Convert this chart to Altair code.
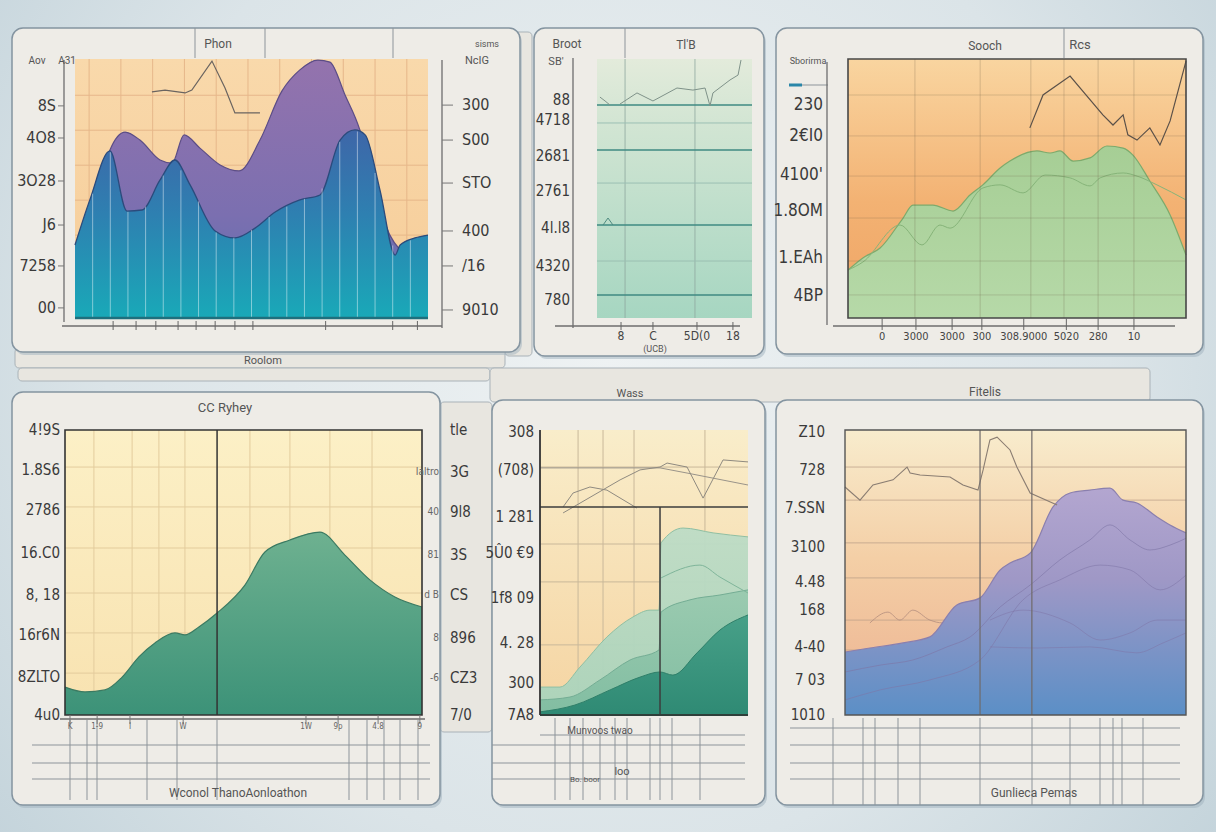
import altair as alt
import pandas as pd

FONT = "Liberation Sans Narrow, DejaVu Sans Condensed, Roboto, sans-serif"
SANS = "Roboto, DejaVu Sans, sans-serif"

# ---------------- data: top-left panel ----------------
a_blue_x = [0, 4.2, 9.9, 14.7, 19.0, 24.1, 28.3, 32.6, 39.7, 45.3, 51.0, 56.7, 63.7, 69.4, 75.1, 79.3, 82.2, 86.4, 90.7, 92.1, 96.3, 100]
a_blue_y = [28.2, 45.6, 64.5, 41.3, 41.7, 53.3, 61.0, 51.4, 33.6, 30.9, 34.7, 40.9, 45.6, 47.5, 68.7, 72.6, 70.7, 49.4, 24.3, 28.2, 30.9, 32.0]
a_purple_x = [7.1, 9.9, 14.2, 18.4, 24.1, 27.5, 30.9, 35.4, 41.1, 46.5, 52.4, 58.6, 63.7, 68.8, 72.2, 76.5, 80.7, 85.0, 89.2, 92.1]
a_purple_y = [49.4, 64.9, 71.8, 68.7, 61.0, 59.8, 70.7, 65.6, 59.1, 56.8, 68.7, 87.6, 95.8, 99.6, 98.8, 86.1, 72.6, 49.4, 32.0, 26.3]
a_line_x = [21.8, 25.5, 31.2, 33.1, 38.8, 42.5, 45.3, 52.4]
a_line_y = [87.3, 88.0, 86.9, 88.0, 99.2, 88.8, 79.2, 79.2]
a_stripe_x = [5, 10, 15, 20, 25, 30, 35, 40, 45, 50, 55, 60, 65, 70, 75, 80, 85, 90, 95]
a_stripe_top = [48, 64, 41, 43, 55, 57, 45, 33, 31, 34, 39, 43, 46, 50, 68, 72, 56, 28, 30]
a_grid_x = [4, 13, 22, 31, 40, 49, 58, 67, 76, 85, 94]
a_grid_y = [18.5, 32, 45.5, 59, 72.5, 86]
a_left_vals = [81.9, 69.5, 52.9, 35.9, 20.1, 3.9]
a_left_labels = ["8S", "4O8", "3O28", "J6", "7258", "00"]
a_right_vals = [82.2, 68.7, 52.1, 33.6, 20.1, 3.1]
a_right_labels = ["300", "S00", "STO", "400", "/16", "9010"]
a_tick_x = [10.8, 17.3, 22.9, 29.2, 34.3, 39.7, 45.3, 50.4, 71.0, 90.0, 97.0]

# ---------------- data: top-middle panel ----------------
b_line_x = [14.8, 25.8, 36.1, 51.6, 61.9, 69.7, 72.9, 74.8, 85.8, 91.0, 92.9]
b_line_y = [82.6, 86.9, 83.8, 88.8, 88.0, 88.8, 81.9, 86.9, 91.9, 93.8, 99.6]
b_wiggle_x = [1.9, 5.2, 8.4]
b_wiggle_y = [85.3, 83.8, 82.2]
b_bump_x = [3.9, 7.1, 10.3]
b_bump_y = [35.9, 38.6, 35.9]
b_dark_y = [82.2, 64.9, 35.9, 8.9]
b_light_y = [75.3, 52.1, 22.0]
b_grid_x = [18.1, 63.2]
b_left_vals = [84.2, 76.4, 62.5, 49.0, 34.7, 20.1, 6.9]
b_left_labels = ["88", "4718", "2681", "2761", "4l.l8", "4320", "780"]
b_bottom_vals = [15.5, 36.1, 64.5, 87.7]
b_bottom_labels = ["8", "C", "5D(0", "18"]

# ---------------- data: top-right panel ----------------
c_green_x = [0, 4.4, 9.5, 16.3, 19.2, 25.1, 31.1, 36.1, 39.9, 45.0, 47.9, 55.9, 59.8, 62.7, 66.6, 71.6, 76.6, 81.4, 84.3, 89.3, 95.3, 100]
c_green_y = [18.5, 23.2, 27.0, 38.6, 43.6, 43.6, 41.3, 47.5, 51.4, 57.9, 60.6, 64.5, 63.7, 64.5, 60.6, 61.8, 66.4, 65.6, 62.9, 52.9, 39.8, 24.3]
c_inner_x = [0, 4.4, 15.4, 21.9, 27.2, 30.2, 39.9, 45.0, 51.8, 58.3, 65.7, 71.6, 74.6, 81.4, 85.5, 91.4, 100]
c_inner_y = [18.5, 21.6, 35.9, 28.2, 35.9, 34.7, 50.2, 51.4, 48.3, 55.2, 54.1, 51.0, 54.1, 56.0, 54.8, 51.4, 45.6]
c_dark_x = [53.8, 57.7, 65.7, 75.4, 78.4, 81.4, 82.8, 85.5, 89.3, 92.3, 95.3, 100]
c_dark_y = [73.4, 86.1, 93.4, 78.4, 74.5, 78.4, 70.7, 68.7, 73.4, 66.8, 76.1, 99.2]
c_grid_x = [19.8, 39.1, 54.1, 63.9, 74.0, 84.6]
c_grid_y = [86.1, 70.3, 54.8, 38.6, 22.0, 8.9]
c_left_vals = [82.2, 70.3, 55.2, 41.3, 23.2, 8.5]
c_left_labels = ["230", "2€I0", "4100'", "1.8OM", "1.EAh", "4BP"]
c_bottom_vals = [10.1, 20.1, 30.8, 39.6, 52.0, 64.6, 74.0, 84.6]
c_bottom_labels = ["0", "3000", "3000", "300", "308.9000", "5020", "280", "10"]

# ---------------- data: bottom-left panel ----------------
d_green_x = [0, 5.6, 11.2, 16.0, 20.7, 25.2, 30.8, 33.6, 37.5, 42.6, 50.4, 56.0, 63.0, 71.4, 78.4, 85.4, 92.4, 100]
d_green_y = [9.8, 8.1, 8.8, 13.3, 20.4, 25.3, 28.8, 28.1, 30.9, 35.8, 45.6, 57.2, 61.4, 64.2, 56.1, 47.4, 41.4, 37.9]
d_grid_x = [8.1, 18.8, 26.3, 33.6, 51.8, 63.0, 74.2, 86.0]
d_grid_y = [87.0, 73.0, 58.6, 42.8, 28.8, 14.7]
d_div_x = [42.6]
d_left_vals = [100, 86.0, 71.9, 56.8, 42.1, 28.1, 13.3, 0]
d_left_labels = ["4!9S", "1.8S6", "2786", "16.C0", "8, 18", "16r6N", "8ZLTO", "4u0"]
d_right_vals = [100, 85.3, 71.2, 56.1, 42.1, 27.0, 13.0, 0]
d_right_labels = ["tle", "3G", "9l8", "3S", "CS", "896", "CZ3", "7/0"]
d_right_small_vals = [85.3, 71.2, 56.1, 42.1, 27.0, 13.0]
d_right_small_labels = ["Ialtro", "40", "81", "d B", "8", "-6"]
d_bottom_vals = [1.4, 9.0, 18.2, 33.1, 67.5, 76.5, 87.7, 99.4]
d_bottom_labels = ["K", "1-9", "I", "W", "1W", "9p", "4.8", "9"]

# ---------------- data: bottom-middle panel ----------------
e_l1_x = [0, 9.6, 19.2, 32.2, 44.7, 52.9, 57.2, 58.2, 68.8, 83.2, 100]
e_l1_y = [9.8, 9.8, 16.8, 27.4, 34.4, 36.8, 36.8, 60.4, 65.6, 63.9, 62.5]
e_l2_x = [0, 14.4, 28.8, 43.3, 57.2, 58.2, 72.1, 86.5, 100]
e_l2_y = [5.3, 6.3, 12.3, 19.3, 22.8, 36.1, 40.4, 42.1, 43.9]
e_l3_x = [0, 16.8, 33.7, 48.1, 57.7, 63.9, 75.5, 86.5, 100]
e_l3_y = [1.1, 3.5, 8.8, 13.3, 15.1, 14.0, 21.8, 29.8, 35.1]
e_inner_x = [58.2, 76.9, 86.5, 100]
e_inner_y = [48.1, 52.6, 48.4, 42.8]
e_thin_a_x = [11.1, 15.9, 24.0, 32.2, 46.6]
e_thin_a_y = [73.0, 77.9, 80.0, 78.9, 72.6]
e_thin_b_x = [11.1, 38.5, 48.1, 57.7, 61.1, 70.7, 78.4, 88.0, 100]
e_thin_b_y = [70.9, 82.5, 86.0, 87.0, 88.4, 87.0, 76.1, 89.5, 88.8]
e_thin_c_x = [0, 57.7, 70.7, 100]
e_thin_c_y = [86.7, 86.7, 84.9, 80.7]
e_grid_x = [18.3, 30.3, 45.2, 79.3]
e_grid_y = [87.0, 60.0, 46.7, 24.6]
e_dark_h = [73.0]
e_dark_v = [57.7]
e_left_vals = [99.3, 86.0, 69.5, 56.8, 41.1, 25.3, 11.2, 0]
e_left_labels = ["308", "(708)", "1 281", "5Û0 €9", "1f8 09", "4. 28", "300", "7A8"]

# ---------------- data: bottom-right panel ----------------
f_area_x = [0, 7.3, 17.0, 24.9, 32.8, 39.6, 45.5, 48.4, 54.3, 61.0, 66.0, 71.8, 77.7, 81.5, 85.6, 91.5, 95.3, 100]
f_area_y = [22.1, 23.5, 25.3, 27.4, 38.6, 41.1, 50.9, 53.3, 56.8, 73.0, 77.9, 78.9, 79.6, 75.4, 74.4, 69.5, 66.7, 63.9]
f_in1_x = [0, 10.3, 19.9, 29.9, 36.7, 45.5, 54.3, 63.0, 71.8, 77.7, 83.6, 89.4, 95.3, 100]
f_in1_y = [15.1, 17.5, 19.3, 23.9, 27.4, 37.9, 45.6, 54.4, 61.4, 66.7, 61.4, 57.9, 59.6, 62.0]
f_in2_x = [0, 10.3, 24.9, 39.6, 52.2, 63.0, 74.8, 83.6, 92.4, 100]
f_in2_y = [5.3, 8.8, 12.3, 19.3, 40.4, 47.4, 52.6, 50.9, 43.9, 49.1]
f_in3_x = [42.5, 52.2, 66.0, 74.8, 83.6, 91.5, 100]
f_in3_y = [33.3, 36.8, 32.3, 26.3, 28.8, 33.3, 33.3]
f_in4_x = [42.5, 56.3, 71.8, 85.6, 93.3, 100]
f_in4_y = [23.9, 23.5, 23.9, 21.8, 25.3, 28.8]
f_top_x = [0, 4.4, 8.2, 14.1, 18.2, 19.1, 22.0, 30.8, 34.6, 39.0, 40.5, 42.5, 44.6, 48.4, 50.4, 54.3, 62.2]
f_top_y = [80.0, 75.4, 80.7, 82.5, 87.0, 84.9, 84.2, 83.5, 80.7, 78.9, 86.0, 96.5, 97.5, 93.0, 87.0, 77.9, 73.7]
f_wave_x = [7.3, 12.6, 16.1, 19.9, 24.9, 28.7, 33.7]
f_wave_y = [32.3, 36.1, 33.3, 36.8, 33.3, 32.3, 32.6]
f_grid_y = [87.0, 75.4, 60.4, 48.1, 33.3, 22.8, 8.8]
f_div_x = [39.6, 54.8]
f_left_vals = [99.3, 86.0, 72.6, 58.9, 46.7, 36.8, 23.9, 12.3, 0]
f_left_labels = ["Z10", "728", "7.SSN", "3100", "4.48", "168", "4-40", "7 03", "1010"]

# ---------------- decorative texts (captions / headers) ----------------
deco_texts = ["Phon", "sisms", "NcIG", "Aov", "A31", "Broot", "Tl'B", "SB'", "Sooch", "Rcs",
              "Sborirma", "Roolom", "Wass", "Fitelis", "CC Ryhey", "Wconol ThanoAonloathon",
              "Gunlieca Pemas", "Munvoos twao", "loo", "Bo. boor", "(UCB)"]

# ---------------- layout (pixels) ----------------
W, H = 1216, 832
TEXT_POS = [(218, 44, 12), (487, 44, 9), (477, 61, 11), (37, 61, 10), (67, 61, 10), (567, 44, 12),
            (686, 45, 12), (556, 62, 11), (985, 46, 12), (1080, 45, 13), (808, 61, 9), (263, 361, 11),
            (630, 394, 11), (985, 392, 12), (225, 408, 13), (238, 793, 12), (1034, 793, 12),
            (600, 731, 10), (622, 772, 11), (585, 780, 8), (655, 349, 9)]
CARDS = [(12, 28, 520, 352), (534, 28, 764, 356), (776, 28, 1203, 354),
         (12, 392, 440, 805), (492, 400, 765, 805), (776, 400, 1203, 805)]
STRIPS = [(505, 32, 532, 356), (15, 348, 505, 368), (18, 368, 490, 381),
          (490, 368, 1150, 402), (440, 402, 492, 732)]
LINES = [(195, 28, 195, 58), (265, 28, 265, 58), (393, 28, 393, 58), (625, 28, 625, 58), (1064, 28, 1064, 58)]
for yy in (745, 763, 779):
    LINES += [(32, yy, 430, yy), (492, yy, 745, yy), (790, yy, 1180, yy)]
LINES += [(540, 735, 745, 735), (790, 728, 1180, 728), (802, 85, 828, 85)]
for xx in (70, 87, 97, 147, 177, 217, 349, 367, 384, 400, 418):
    LINES.append((xx, 720, xx, 800))
for xx in (555, 570, 583, 600, 615, 627, 650, 660, 672, 700):
    LINES.append((xx, 718, xx, 800))
for xx in (833, 863, 875, 898, 920, 980, 1032, 1070, 1100, 1113, 1122, 1143):
    LINES.append((xx, 718, xx, 805))
AXLINES = [(64, 60, 64, 322), (442, 60, 442, 328), (62, 326, 442, 326),
           (573, 58, 573, 328), (555, 326, 740, 326),
           (827, 62, 827, 325), (833, 326, 1175, 326),
           (60, 719, 425, 719)]

# panel plot rectangles: x0, x1, y_bottom, y_top (pixels)
BOX_A = (75, 428, 318, 59)
BOX_B = (597, 752, 318, 59)
BOX_C = (848, 1186, 318, 59)
BOX_D = (65, 422, 715, 430)
BOX_E = (540, 748, 715, 430)
BOX_F = (845, 1186, 715, 430)


def lin(stops):
    return alt.Gradient(gradient="linear", x1=0, x2=0, y1=0, y2=1,
                        stops=[alt.GradientStop(offset=o, color=c) for o, c in stops])


class Panel:
    def __init__(self, box):
        self.x0, self.x1, self.yb, self.yt = box
        self.layers = []

    def X(self, f="x"):
        return alt.X(f + ":Q", axis=None,
                     scale=alt.Scale(domain=[0, 100], range=[self.x0, self.x1], nice=False, zero=False))

    def Y(self, f="y"):
        return alt.Y(f + ":Q", axis=None,
                     scale=alt.Scale(domain=[0, 100], range=[self.yb, self.yt], nice=False, zero=False))

    def add(self, c):
        self.layers.append(c)
        return self

    def bg(self, stops):
        df = pd.DataFrame({"x": [0], "x2": [100], "y": [0], "y2": [100]})
        return self.add(alt.Chart(df).mark_rect(fill=lin(stops)).encode(
            x=self.X(), x2="x2:Q", y=self.Y(), y2="y2:Q"))

    def border(self, color, sw):
        df = pd.DataFrame({"x": [0], "x2": [100], "y": [0], "y2": [100]})
        return self.add(alt.Chart(df).mark_rect(filled=False, stroke=color, strokeWidth=sw).encode(
            x=self.X(), x2="x2:Q", y=self.Y(), y2="y2:Q"))

    def vrules(self, xs, color, sw=1, op=1, lo=0, hi=100):
        df = pd.DataFrame({"x": xs, "a": [lo] * len(xs), "b": [hi] * len(xs)})
        return self.add(alt.Chart(df).mark_rule(color=color, strokeWidth=sw, opacity=op).encode(
            x=self.X(), y=self.Y("a"), y2="b:Q"))

    def hrules(self, ys, color, sw=1, op=1, lo=0, hi=100):
        df = pd.DataFrame({"y": ys, "a": [lo] * len(ys), "b": [hi] * len(ys)})
        return self.add(alt.Chart(df).mark_rule(color=color, strokeWidth=sw, opacity=op).encode(
            y=self.Y(), x=self.X("a"), x2="b:Q"))

    def stripes(self, xs, tops, color="white", op=0.45):
        df = pd.DataFrame({"x": xs, "y": tops, "b": [0] * len(xs)})
        return self.add(alt.Chart(df).mark_rule(color=color, opacity=op, strokeWidth=1).encode(
            x=self.X(), y=self.Y(), y2="b:Q"))

    def area(self, xs, ys, stops, stroke, sw=1.2, op=1.0):
        df = pd.DataFrame({"x": xs, "y": ys})
        return self.add(alt.Chart(df).mark_area(
            fill=lin(stops), opacity=op, interpolate="monotone",
            line=alt.OverlayMarkDef(color=stroke, strokeWidth=sw)).encode(x=self.X(), y=self.Y()))

    def line(self, xs, ys, color, sw=1.0, op=1.0, interp="linear"):
        df = pd.DataFrame({"x": xs, "y": ys, "i": list(range(len(xs)))})
        return self.add(alt.Chart(df).mark_line(color=color, strokeWidth=sw, opacity=op,
                                                interpolate=interp).encode(
            x=self.X(), y=self.Y(), order="i:Q"))

    def ylabels(self, vals, labels, xpx, align, size=15, color="#3a3a3a"):
        df = pd.DataFrame({"y": vals, "t": labels})
        return self.add(alt.Chart(df).mark_text(align=align, baseline="middle", font=FONT,
                                                fontSize=size, color=color).encode(
            y=self.Y(), x=alt.value(xpx), text="t:N"))

    def yticks(self, vals, xa, xb, color="#777777"):
        df = pd.DataFrame({"y": vals})
        return self.add(alt.Chart(df).mark_rule(color=color, strokeWidth=1).encode(
            y=self.Y(), x=alt.value(xa), x2=alt.value(xb)))

    def xlabels(self, vals, labels, ypx, size=12, color="#444444"):
        df = pd.DataFrame({"x": vals, "t": labels})
        return self.add(alt.Chart(df).mark_text(align="center", baseline="middle", font=FONT,
                                                fontSize=size, color=color).encode(
            x=self.X(), y=alt.value(ypx), text="t:N"))

    def xticks(self, vals, ya, yb, color="#666666"):
        df = pd.DataFrame({"x": vals})
        return self.add(alt.Chart(df).mark_rule(color=color, strokeWidth=1).encode(
            x=self.X(), y=alt.value(ya), y2=alt.value(yb)))

    def chart(self):
        return alt.layer(*self.layers)


def pix(items):
    return pd.DataFrame([{"x": a, "y": b, "x2": c, "y2": d} for a, b, c, d in items])


PENC = dict(x=alt.X("x:Q", scale=None, axis=None), x2="x2:Q",
            y=alt.Y("y:Q", scale=None, axis=None), y2="y2:Q")


def deco():
    back = alt.Chart(pix([(0, 0, W, H)])).mark_rect(fill=alt.RadialGradient(
        gradient="radial", x1=0.5, y1=0.45, r1=0, x2=0.5, y2=0.45, r2=0.75,
        stops=[alt.GradientStop(offset=0, color="#eef2f3"), alt.GradientStop(offset=0.55, color="#dbe4e8"),
               alt.GradientStop(offset=1, color="#b9ccd5")])).encode(**PENC)
    strips = alt.Chart(pix(STRIPS)).mark_rect(fill="#e8e6e0", stroke="#a9b2b8", strokeWidth=1,
                                              cornerRadius=4).encode(**PENC)
    shadows = alt.Chart(pix([(a + 2, b + 3, c + 2, d + 3) for a, b, c, d in CARDS])).mark_rect(
        fill="#9fb2bd", opacity=0.5, cornerRadius=11).encode(**PENC)
    cards = alt.Chart(pix(CARDS)).mark_rect(fill="#eeece7", stroke="#8494a0", strokeWidth=1.5,
                                            cornerRadius=11).encode(**PENC)
    lines = alt.Chart(pix(LINES)).mark_rule(color="#8d949a", strokeWidth=1).encode(**PENC)
    axl = alt.Chart(pix(AXLINES)).mark_rule(color="#6e6e6e", strokeWidth=1.3).encode(**PENC)
    dash = alt.Chart(pix([(789, 85, 802, 85)])).mark_rule(color="#2a86a8", strokeWidth=3).encode(**PENC)
    tdf = pd.DataFrame([{"t": t, "x": x, "y": y, "s": s} for t, (x, y, s) in zip(deco_texts, TEXT_POS)])
    texts = alt.Chart(tdf).mark_text(font=SANS, color="#555555").encode(
        x=alt.X("x:Q", scale=None, axis=None), y=alt.Y("y:Q", scale=None, axis=None), text="t:N",
        size=alt.Size("s:Q", scale=None, legend=None))
    return alt.layer(back, strips, shadows, cards, lines, axl, dash, texts)


# ---------------- panels ----------------
A = Panel(BOX_A)
A.bg([(0, "#f9d9ab"), (1, "#f6cc98")])
A.vrules(a_grid_x, "#e6b78a").hrules(a_grid_y, "#e6b78a")
A.area(a_purple_x, a_purple_y, [(0, "#9473ad"), (0.6, "#7b6fb0"), (1, "#5a70b0")], "#5c4d86", 1.2)
A.area(a_blue_x, a_blue_y, [(0, "#3e66a8"), (0.45, "#2e80b1"), (1, "#19a9b8")], "#2b4b7c", 1.3)
A.stripes(a_stripe_x, a_stripe_top)
A.line(a_line_x, a_line_y, "#6a6460", 1.2)
A.hrules([0], "#1f6f7d", 2.5)
A.yticks(a_left_vals, 58, 64).ylabels(a_left_vals, a_left_labels, 56, "right", 16)
A.yticks(a_right_vals, 442, 453).ylabels(a_right_vals, a_right_labels, 462, "left", 16)
A.xticks(a_tick_x, 321, 330)

B = Panel(BOX_B)
B.bg([(0, "#e3ebdb"), (0.25, "#d2e5d3"), (1, "#a6d6c1")])
B.vrules(b_grid_x, "#8fa89f", 1, 0.8)
B.hrules(b_light_y, "#9bbfb3", 1)
B.hrules(b_dark_y, "#3f8a82", 1.5)
B.line(b_wiggle_x, b_wiggle_y, "#7f9289", 1)
B.line(b_bump_x, b_bump_y, "#4f8a80", 1)
B.line(b_line_x, b_line_y, "#7f9289", 1)
B.ylabels(b_left_vals, b_left_labels, 570, "right", 15)
B.xticks(b_bottom_vals, 322, 330).xlabels(b_bottom_vals, b_bottom_labels, 336, 12)

C = Panel(BOX_C)
C.bg([(0, "#f9d5a0"), (0.55, "#f3b273"), (1, "#efa464")])
C.area(c_green_x, c_green_y, [(0, "#a6ce95"), (1, "#b6d9a8")], "#7daa6c", 1.2)
C.line(c_inner_x, c_inner_y, "#86b479", 1, interp="monotone")
C.vrules(c_grid_x, "#6b5a45", 1, 0.25).hrules(c_grid_y, "#6b5a45", 1, 0.22)
C.line(c_dark_x, c_dark_y, "#5b5149", 1.2)
C.border("#474747", 1.6)
C.ylabels(c_left_vals, c_left_labels, 823, "right", 17)
C.xticks(c_bottom_vals, 318, 330).xlabels(c_bottom_vals, c_bottom_labels, 337, 11)

D = Panel(BOX_D)
D.bg([(0, "#fcf0c6"), (1, "#f8e2b0")])
D.vrules(d_grid_x, "#e3cc9d").hrules(d_grid_y, "#e3cc9d")
D.area(d_green_x, d_green_y, [(0, "#6eb190"), (1, "#3c9278")], "#3b7a62", 1.2)
D.vrules(d_div_x, "#333333", 1.5)
D.border("#333333", 1.6)
D.ylabels(d_left_vals, d_left_labels, 60, "right", 15)
D.ylabels(d_right_small_vals, d_right_small_labels, 439, "right", 10, "#666666")
D.ylabels(d_right_vals, d_right_labels, 450, "left", 15)
D.xticks(d_bottom_vals, 715, 724, "#777777").xlabels(d_bottom_vals, d_bottom_labels, 727, 8, "#666666")

E = Panel(BOX_E)
E.bg([(0, "#f9edca"), (1, "#f5d4a2")])
E.vrules(e_grid_x, "#c9b89a").hrules(e_grid_y, "#c9b89a")
E.line(e_thin_c_x, e_thin_c_y, "#9a948a", 1)
E.line(e_thin_a_x, e_thin_a_y, "#8f8a80", 1)
E.line(e_thin_b_x, e_thin_b_y, "#8f8a80", 1)
E.area(e_l1_x, e_l1_y, [(0, "#bddcc6"), (1, "#a9d3bb")], "#8fbfa3", 1, 0.95)
E.area(e_l2_x, e_l2_y, [(0, "#97c9ae"), (1, "#7dbb9f")], "#74ad94", 1, 0.9)
E.line(e_inner_x, e_inner_y, "#7fb59a", 1, interp="monotone")
E.area(e_l3_x, e_l3_y, [(0, "#47a088"), (1, "#2f8a74")], "#2f7f69", 1)
E.hrules(e_dark_h, "#3d3d3d", 1.5)
E.vrules(e_dark_v, "#3d3d3d", 1.5, 1, 0, e_dark_h[0])
E.hrules([0], "#2f3f3a", 2)
E.vrules([0], "#333333", 1.8)
E.ylabels(e_left_vals, e_left_labels, 534, "right", 15)

F = Panel(BOX_F)
F.bg([(0, "#f8eccd"), (0.45, "#f4cfa6"), (0.8, "#efbc98"), (1, "#e9b7a0")])
F.hrules(f_grid_y, "#b89c86", 1, 0.7)
F.line(f_wave_x, f_wave_y, "#b48f7e", 1, 0.8, "monotone")
F.area(f_area_x, f_area_y, [(0, "#b3a6d0"), (0.4, "#9f98c6"), (1, "#5b8fc6")], "#8a7fae", 1.2)
F.line(f_in1_x, f_in1_y, "#7d74a5", 1, 0.6, "monotone")
F.line(f_in2_x, f_in2_y, "#7d74a5", 1, 0.55, "monotone")
F.line(f_in3_x, f_in3_y, "#7d74a5", 1, 0.5, "monotone")
F.line(f_in4_x, f_in4_y, "#7d74a5", 1, 0.5, "monotone")
F.line(f_top_x, f_top_y, "#8a7d72", 1.1)
F.vrules(f_div_x, "#6f6a6a", 1.2)
F.border("#555555", 1.4)
F.ylabels(f_left_vals, f_left_labels, 825, "right", 15)

chart = alt.layer(
    deco(), A.chart(), B.chart(), C.chart(), D.chart(), E.chart(), F.chart()
).resolve_scale(x="independent", y="independent").properties(
    width=W, height=H, autosize=alt.AutoSizeParams(type="none"), padding=0, background="#cfdbe1"
).configure_view(strokeWidth=0)

chart.save("out.html", embed_options={"renderer": "svg", "actions": False})
